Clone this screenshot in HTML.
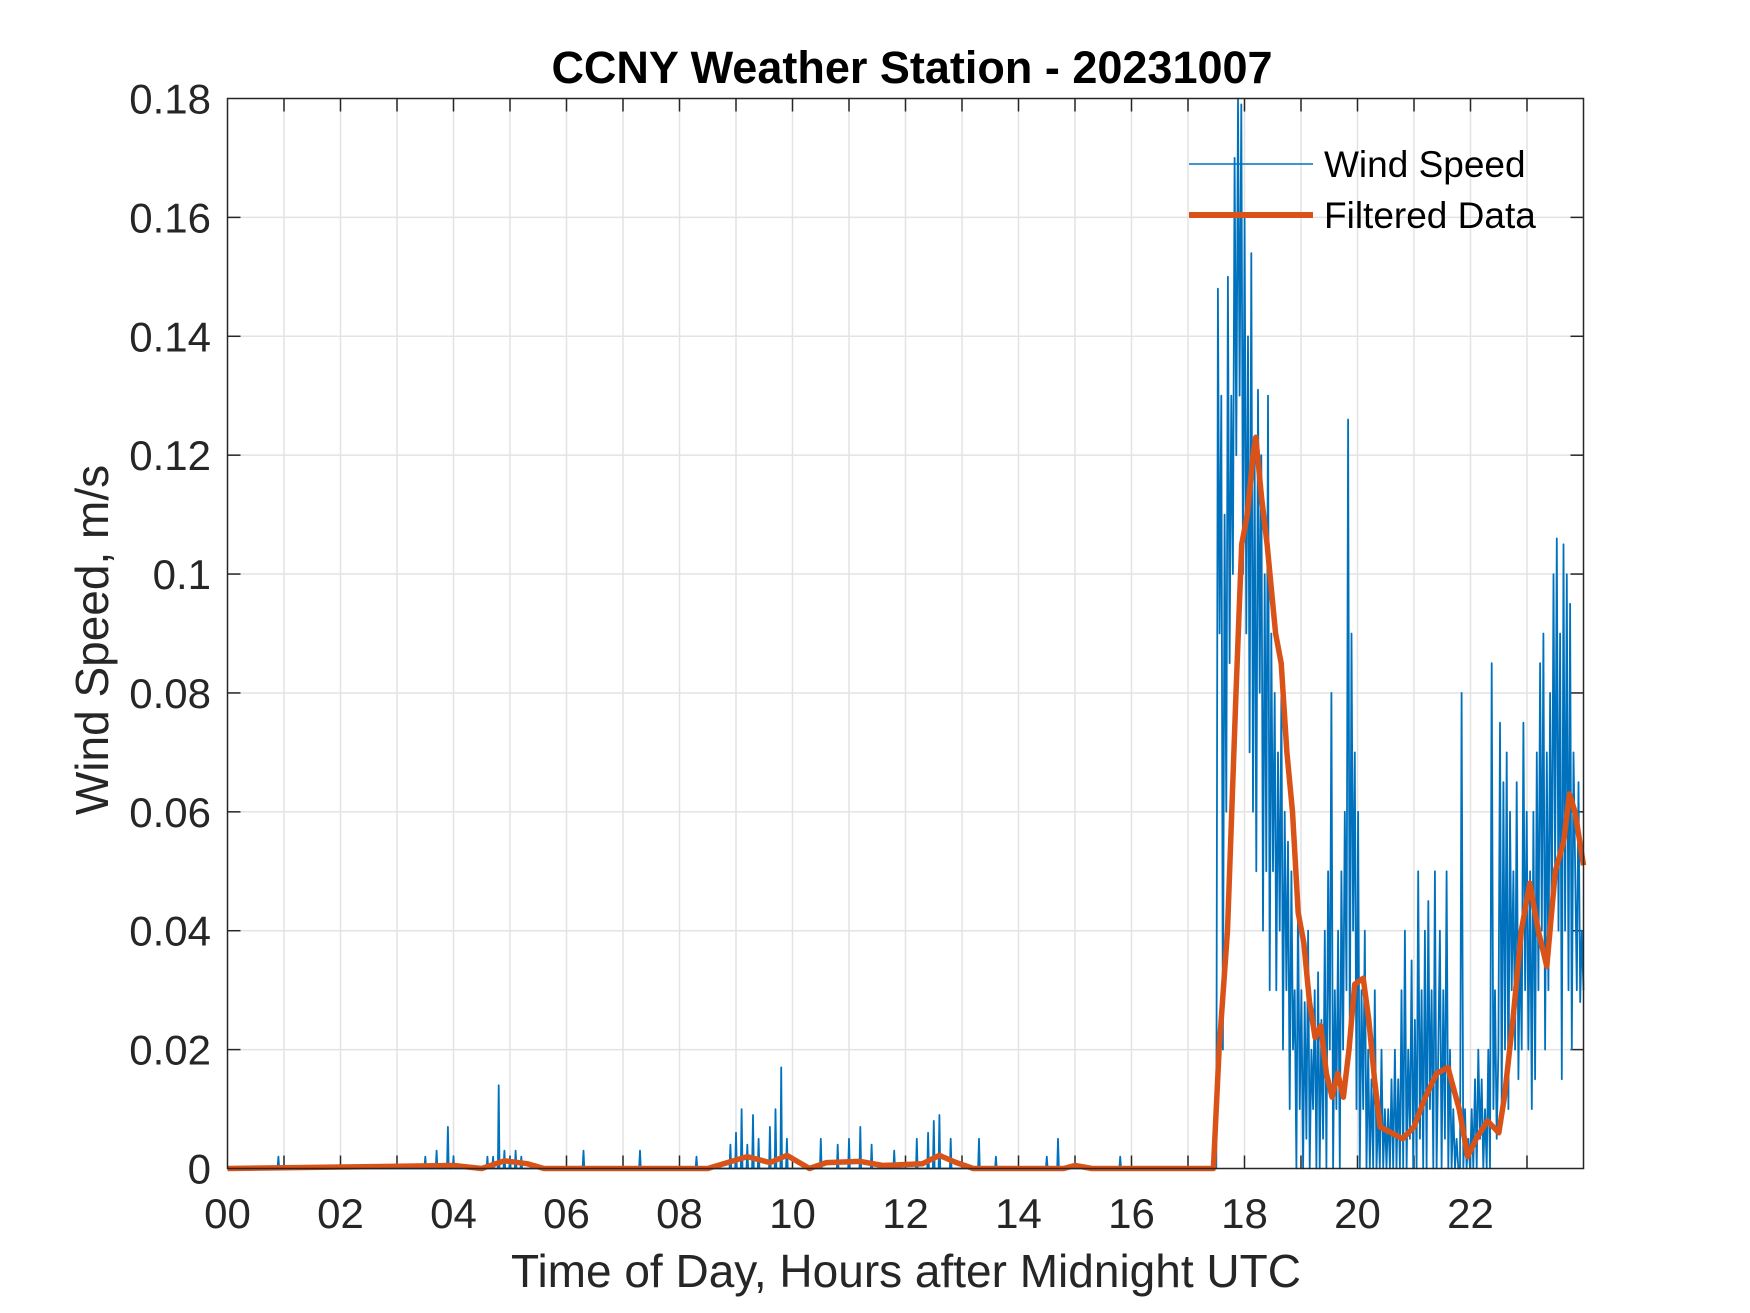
<!DOCTYPE html>
<html><head><meta charset="utf-8"><style>
html,body{margin:0;padding:0;background:#fff;}
svg{display:block;font-family:"Liberation Sans",Arial,sans-serif;}
</style></head><body>
<svg id="chart" width="1750" height="1313" viewBox="0 0 1750 1313" xmlns="http://www.w3.org/2000/svg">
<rect x="0" y="0" width="1750" height="1313" fill="#ffffff"/>
<text x="912" y="83" text-anchor="middle" font-size="45" font-weight="bold" fill="#000">CCNY Weather Station - 20231007</text>
<text x="906" y="1287" text-anchor="middle" font-size="46" fill="#262626">Time of Day, Hours after Midnight UTC</text>
<text transform="translate(108,640) rotate(-90)" text-anchor="middle" font-size="46" fill="#262626">Wind Speed, m/s</text>
<g id="grid"></g>
<g id="ticks"></g>
<g id="series"></g>
<rect x="227.5" y="98.5" width="1356" height="1070" fill="none" stroke="#262626" stroke-width="1.5"/>
<g>
<line x1="1189" y1="164" x2="1313" y2="164" stroke="#0072BD" stroke-width="1.5"/>
<text x="1324" y="177" font-size="37" fill="#000">Wind Speed</text>
<line x1="1189" y1="215" x2="1313" y2="215" stroke="#D95319" stroke-width="6"/>
<text x="1324" y="228" font-size="37" fill="#000">Filtered Data</text>
</g>
</svg>
<script>
const xTickLabels = ["00","02","04","06","08","10","12","14","16","18","20","22"];
const yTickValues = [0,0.02,0.04,0.06,0.08,0.1,0.12,0.14,0.16,0.18];
const yTickLabels = ["0","0.02","0.04","0.06","0.08","0.1","0.12","0.14","0.16","0.18"];
const spikeHours = [0.9,3.5,3.7,3.9,4.0,4.6,4.7,4.8,4.9,5.0,5.1,5.2,6.3,7.3,8.3,8.9,9.0,9.1,9.2,9.3,9.4,9.6,9.7,9.8,9.9,10.5,10.8,11.0,11.2,11.4,11.8,12.2,12.4,12.5,12.6,12.8,13.3,13.6,14.5,14.7,15.0,15.8];
const spikeValues = [0.002,0.002,0.003,0.007,0.002,0.002,0.002,0.014,0.003,0.002,0.003,0.002,0.003,0.003,0.002,0.004,0.006,0.01,0.004,0.009,0.005,0.007,0.01,0.017,0.005,0.005,0.004,0.005,0.007,0.004,0.003,0.005,0.006,0.008,0.009,0.005,0.005,0.002,0.002,0.005,0.001,0.002];
const denseStart = 17.5, denseEnd = 24.0;
const denseValues = [
0,0.148,0.09,0.13,0.02,0.11,0.06,0.15,0.085,0.13,0.1,0.17,0.12,0.18,0.13,0.179,0.1,
0.16,0.09,0.14,0.07,0.154,0.06,0.12,0.05,0.131,0.08,0.12,0.04,0.10,0.05,0.13,0.03,0.09,
0.05,0.08,0.03,0.07,0.04,0.08,0.02,0.06,0.03,0.055,0.01,0.05,0.02,0.03,0.0,0.045,0.01,
0.03,0.0,0.028,0.005,0.04,0.0,0.02,0.01,0.03,0.0,0.033,0.0,0.025,0.005,0.04,0.0,0.05,
0.02,0.08,0.0,0.03,0.01,0.04,0.0,0.05,0.02,0.06,0.03,0.126,0.02,0.09,0.04,0.07,0.01,
0.06,0.0,0.03,0.01,0.04,0.0,0.02,0.0,0.015,0.0,0.03,0.0,0.01,0.0,0.02,0.0,0.01,
0.0,0.01,0.0,0.015,0.0,0.02,0.0,0.015,0.0,0.03,0.0,0.04,0.0,0.02,0.005,0.035,0.0,
0.025,0.0,0.05,0.005,0.03,0.0,0.04,0.0,0.045,0.01,0.03,0.0,0.05,0.0,0.02,0.04,0.0,
0.03,0.005,0.05,0.0,0.02,0.0,0.01,0.0,0.005,0.0,0.0,0.08,0.0,0.01,0.0,0.005,0.0,
0.01,0.0,0.015,0.0,0.02,0.005,0.015,0.0,0.01,0.0,0.02,0.0,0.085,0.01,0.03,0.005,0.02,
0.075,0.01,0.065,0.02,0.07,0.01,0.06,0.03,0.05,0.02,0.065,0.015,0.04,0.02,0.075,0.03,0.06,
0.02,0.05,0.01,0.06,0.015,0.07,0.03,0.085,0.04,0.09,0.02,0.07,0.03,0.08,0.04,0.10,0.05,
0.106,0.04,0.09,0.015,0.105,0.04,0.1,0.03,0.095,0.02,0.07,0.05,0.03,0.065,0.028,0.04,0.03];
const filtHours = [0,4.0,4.5,4.9,5.3,5.6,8.5,9.2,9.6,9.9,10.3,10.6,11.2,11.6,12.3,12.6,12.9,13.2,14.8,15.0,15.3,17.45,17.55,17.7,17.85,17.95,18.05,18.15,18.2,18.3,18.4,18.55,18.65,18.75,18.85,18.95,19.05,19.15,19.25,19.35,19.45,19.55,19.65,19.75,19.85,19.95,20.1,20.2,20.3,20.4,20.6,20.8,21.0,21.2,21.4,21.6,21.8,21.95,22.1,22.3,22.5,22.6,22.75,22.9,23.05,23.2,23.35,23.5,23.65,23.75,23.85,24.0];
const filtValues = [0,0.0005,0,0.0013,0.0008,0,0,0.002,0.001,0.0022,0,0.001,0.0012,0.0005,0.0008,0.0022,0.001,0,0,0.0005,0,0,0.02,0.04,0.08,0.105,0.11,0.12,0.123,0.113,0.105,0.09,0.085,0.07,0.06,0.043,0.038,0.028,0.022,0.024,0.016,0.012,0.016,0.012,0.02,0.031,0.032,0.025,0.015,0.007,0.006,0.005,0.007,0.012,0.016,0.017,0.01,0.002,0.005,0.008,0.006,0.012,0.025,0.04,0.048,0.04,0.034,0.05,0.055,0.063,0.06,0.051];

const L=227.5,T=98.5,W=1356,H=1070,XMAX=24,YMAX=0.18;
const xs=h=>L+h/XMAX*W, ys=v=>T+H-v/YMAX*H;
const NS="http://www.w3.org/2000/svg";
function mk(tag,attrs,parent){const e=document.createElementNS(NS,tag);for(const k in attrs)e.setAttribute(k,attrs[k]);parent.appendChild(e);return e;}
const grid=document.getElementById('grid'),ticks=document.getElementById('ticks'),series=document.getElementById('series');
for(let h=1;h<XMAX;h++){
  const g=mk('line',{x1:xs(h),x2:xs(h),y1:T,y2:T+H,stroke:'#e3e3e3','stroke-width':1.5},grid);
  
  
  const t1=mk('line',{x1:xs(h),x2:xs(h),y1:T+H,y2:T+H-13,stroke:'#262626','stroke-width':1.5},ticks);
  
  
  const t2=mk('line',{x1:xs(h),x2:xs(h),y1:T,y2:T+13,stroke:'#262626','stroke-width':1.5},ticks);
  
  
}
xTickLabels.forEach((lab,i)=>{
  const t=mk('text',{x:xs(i*2),y:1228,'text-anchor':'middle','font-size':42,fill:'#262626'},ticks);
  t.textContent=lab;
  
  
});
yTickValues.forEach((v,i)=>{
  if(v>0&&v<YMAX){
    const g=mk('line',{x1:L,x2:L+W,y1:ys(v),y2:ys(v),stroke:'#e3e3e3','stroke-width':1.5},grid);
    
    
    const t1=mk('line',{x1:L,x2:L+13,y1:ys(v),y2:ys(v),stroke:'#262626','stroke-width':1.5},ticks);
    
    
    const t2=mk('line',{x1:L+W-13,x2:L+W,y1:ys(v),y2:ys(v),stroke:'#262626','stroke-width':1.5},ticks);
    
    
  }
  const t=mk('text',{x:211,y:ys(v)+15,'text-anchor':'end','font-size':42,fill:'#262626'},ticks);
  t.textContent=yTickLabels[i];
  
  
});
let pts=[[0,0]];
spikeHours.forEach((h,i)=>{pts.push([h-0.015,0],[h,spikeValues[i]],[h+0.015,0]);});
const step=(denseEnd-denseStart)/(denseValues.length-1);
denseValues.forEach((v,i)=>pts.push([denseStart+i*step,v]));
const raw=mk('polyline',{points:pts.map(p=>xs(p[0]).toFixed(1)+','+ys(p[1]).toFixed(1)).join(' '),fill:'none',stroke:'#0072BD','stroke-width':1.8,'stroke-linejoin':'round'},series);


const filt=mk('polyline',{points:filtHours.map((h,i)=>xs(h).toFixed(1)+','+ys(filtValues[i]).toFixed(1)).join(' '),fill:'none',stroke:'#D95319','stroke-width':5.5,'stroke-linejoin':'round'},series);


</script>
</body></html>
